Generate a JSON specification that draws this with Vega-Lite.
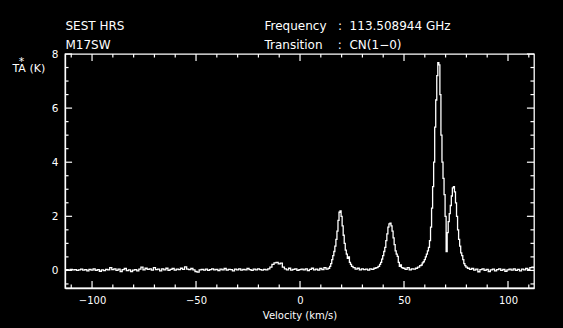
{
  "$schema": "https://vega.github.io/schema/vega-lite/v6.json",
  "width": 469,
  "height": 234,
  "autosize": {"type": "none"},
  "padding": {"left": 65, "top": 54, "right": 29, "bottom": 40},
  "background": "black",
  "config": {
    "view": {"stroke": "white", "strokeWidth": 1.3},
    "axis": {
      "domainColor": "white", "domainWidth": 1.3, "tickColor": "white",
      "labelColor": "white", "titleColor": "white", "labelFont": "DejaVu Sans", "titleFont": "DejaVu Sans",
      "labelFontSize": 10, "titleFontSize": 10, "titleFontWeight": "normal", "grid": false,
      "labelFlush": false, "labelOverlap": false
    }
  },
  "datasets": {
    "xt": [{"v": -110}, {"v": -100}, {"v": -90}, {"v": -80}, {"v": -70}, {"v": -60}, {"v": -50}, {"v": -40}, {"v": -30}, {"v": -20}, {"v": -10}, {"v": 0}, {"v": 10}, {"v": 20}, {"v": 30}, {"v": 40}, {"v": 50}, {"v": 60}, {"v": 70}, {"v": 80}, {"v": 90}, {"v": 100}, {"v": 110}],
    "yt": [{"t": -0.5}, {"t": 0}, {"t": 0.5}, {"t": 1}, {"t": 1.5}, {"t": 2}, {"t": 2.5}, {"t": 3}, {"t": 3.5}, {"t": 4}, {"t": 4.5}, {"t": 5}, {"t": 5.5}, {"t": 6}, {"t": 6.5}, {"t": 7}, {"t": 7.5}, {"t": 8}]
  },
  "data": {"values": [
    {"v": -113, "t": 0.02}, {"v": -112, "t": 0.03}, {"v": -111, "t": 0.01}, {"v": -110, "t": 0.04}, {"v": -109, "t": 0.02},
    {"v": -108, "t": 0.03}, {"v": -107, "t": 0.0}, {"v": -106, "t": 0.02}, {"v": -105, "t": 0.05}, {"v": -104, "t": 0.01},
    {"v": -103, "t": 0.03}, {"v": -102, "t": -0.02}, {"v": -101, "t": 0.04}, {"v": -100, "t": 0.01}, {"v": -99, "t": 0.06},
    {"v": -98, "t": 0.0}, {"v": -97, "t": 0.03}, {"v": -96, "t": -0.03}, {"v": -95, "t": 0.02}, {"v": -94, "t": -0.01},
    {"v": -93, "t": 0.04}, {"v": -92, "t": 0.02}, {"v": -91, "t": 0.1}, {"v": -90, "t": 0.03}, {"v": -89, "t": 0.06},
    {"v": -88, "t": 0.0}, {"v": -87, "t": 0.05}, {"v": -86, "t": -0.04}, {"v": -85, "t": 0.03}, {"v": -84, "t": 0.07},
    {"v": -83, "t": -0.01}, {"v": -82, "t": 0.02}, {"v": -81, "t": -0.04}, {"v": -80, "t": 0.01}, {"v": -79, "t": 0.03},
    {"v": -78, "t": -0.02}, {"v": -77, "t": 0.05}, {"v": -76, "t": 0.12}, {"v": -75, "t": 0.02}, {"v": -74, "t": 0.08},
    {"v": -73, "t": 0.04}, {"v": -72, "t": 0.06}, {"v": -71, "t": 0.01}, {"v": -70, "t": 0.1}, {"v": -69, "t": 0.03},
    {"v": -68, "t": 0.05}, {"v": -67, "t": -0.02}, {"v": -66, "t": 0.06}, {"v": -65, "t": 0.02}, {"v": -64, "t": 0.08},
    {"v": -63, "t": 0.0}, {"v": -62, "t": 0.04}, {"v": -61, "t": 0.07}, {"v": -60, "t": 0.01}, {"v": -59, "t": 0.05},
    {"v": -58, "t": 0.03}, {"v": -57, "t": 0.08}, {"v": -56, "t": 0.04}, {"v": -55, "t": 0.13}, {"v": -54, "t": 0.05},
    {"v": -53, "t": 0.03}, {"v": -52, "t": 0.07}, {"v": -51, "t": 0.02}, {"v": -50, "t": -0.04}, {"v": -49, "t": -0.06},
    {"v": -48, "t": 0.02}, {"v": -47, "t": 0.04}, {"v": -46, "t": 0.01}, {"v": -45, "t": 0.05}, {"v": -44, "t": 0.0},
    {"v": -43, "t": 0.03}, {"v": -42, "t": 0.06}, {"v": -41, "t": 0.02}, {"v": -40, "t": 0.04}, {"v": -39, "t": -0.01},
    {"v": -38, "t": 0.05}, {"v": -37, "t": 0.02}, {"v": -36, "t": 0.07}, {"v": -35, "t": 0.01}, {"v": -34, "t": 0.04},
    {"v": -33, "t": 0.03}, {"v": -32, "t": -0.02}, {"v": -31, "t": 0.05}, {"v": -30, "t": 0.02}, {"v": -29, "t": 0.06},
    {"v": -28, "t": 0.01}, {"v": -27, "t": 0.04}, {"v": -26, "t": 0.02}, {"v": -25, "t": 0.07}, {"v": -24, "t": 0.03},
    {"v": -23, "t": 0.0}, {"v": -22, "t": 0.05}, {"v": -21, "t": 0.02}, {"v": -20, "t": 0.06}, {"v": -19, "t": 0.03},
    {"v": -18, "t": 0.01}, {"v": -17, "t": 0.04}, {"v": -16, "t": 0.02}, {"v": -15, "t": 0.06}, {"v": -14, "t": 0.12},
    {"v": -13, "t": 0.22}, {"v": -12, "t": 0.28}, {"v": -11, "t": 0.3}, {"v": -10, "t": 0.24}, {"v": -9, "t": 0.27},
    {"v": -8, "t": 0.12}, {"v": -7, "t": 0.06}, {"v": -6, "t": 0.02}, {"v": -5, "t": 0.08}, {"v": -4, "t": 0.01},
    {"v": -3, "t": 0.04}, {"v": -2, "t": 0.06}, {"v": -1, "t": 0.0}, {"v": 0, "t": 0.03}, {"v": 1, "t": 0.05},
    {"v": 2, "t": 0.02}, {"v": 3, "t": 0.06}, {"v": 4, "t": -0.01}, {"v": 5, "t": 0.04}, {"v": 6, "t": 0.08},
    {"v": 7, "t": 0.02}, {"v": 8, "t": 0.05}, {"v": 9, "t": 0.01}, {"v": 10, "t": 0.07}, {"v": 11, "t": 0.03},
    {"v": 12, "t": 0.1}, {"v": 13, "t": 0.05}, {"v": 14, "t": 0.08}, {"v": 14.5, "t": 0.15}, {"v": 15, "t": 0.25},
    {"v": 15.5, "t": 0.4}, {"v": 16, "t": 0.55}, {"v": 16.5, "t": 0.7}, {"v": 17, "t": 0.9}, {"v": 17.5, "t": 1.15},
    {"v": 18, "t": 1.45}, {"v": 18.5, "t": 1.85}, {"v": 19, "t": 2.15}, {"v": 19.5, "t": 2.2}, {"v": 20, "t": 2.0},
    {"v": 20.5, "t": 1.65}, {"v": 21, "t": 1.3}, {"v": 21.5, "t": 1.0}, {"v": 22, "t": 0.75}, {"v": 22.5, "t": 0.6},
    {"v": 23, "t": 0.45}, {"v": 23.5, "t": 0.5}, {"v": 24, "t": 0.3}, {"v": 24.5, "t": 0.22}, {"v": 25, "t": 0.15},
    {"v": 26, "t": 0.1}, {"v": 27, "t": 0.05}, {"v": 28, "t": 0.08}, {"v": 29, "t": 0.02}, {"v": 30, "t": 0.06},
    {"v": 31, "t": 0.03}, {"v": 32, "t": 0.05}, {"v": 33, "t": 0.01}, {"v": 34, "t": 0.06}, {"v": 35, "t": 0.04},
    {"v": 36, "t": 0.08}, {"v": 37, "t": 0.1}, {"v": 38, "t": 0.15}, {"v": 38.5, "t": 0.22}, {"v": 39, "t": 0.3},
    {"v": 39.5, "t": 0.42}, {"v": 40, "t": 0.55}, {"v": 40.5, "t": 0.7}, {"v": 41, "t": 0.85}, {"v": 41.5, "t": 1.1},
    {"v": 42, "t": 1.35}, {"v": 42.5, "t": 1.6}, {"v": 43, "t": 1.72}, {"v": 43.5, "t": 1.75}, {"v": 44, "t": 1.65},
    {"v": 44.5, "t": 1.45}, {"v": 45, "t": 1.2}, {"v": 45.5, "t": 0.95}, {"v": 46, "t": 0.72}, {"v": 46.5, "t": 0.6},
    {"v": 47, "t": 0.52}, {"v": 47.5, "t": 0.3}, {"v": 48, "t": 0.15}, {"v": 48.5, "t": 0.2}, {"v": 49, "t": 0.1},
    {"v": 50, "t": 0.08}, {"v": 51, "t": 0.04}, {"v": 52, "t": 0.1}, {"v": 53, "t": 0.02}, {"v": 54, "t": 0.06},
    {"v": 55, "t": 0.05}, {"v": 56, "t": 0.08}, {"v": 57, "t": 0.12}, {"v": 58, "t": 0.18}, {"v": 58.5, "t": 0.2},
    {"v": 59, "t": 0.28}, {"v": 59.5, "t": 0.32}, {"v": 60, "t": 0.4}, {"v": 60.5, "t": 0.5}, {"v": 61, "t": 0.6},
    {"v": 61.5, "t": 0.72}, {"v": 62, "t": 0.85}, {"v": 62.5, "t": 1.1}, {"v": 63, "t": 1.6}, {"v": 63.5, "t": 2.3},
    {"v": 64, "t": 3.1}, {"v": 64.5, "t": 4.0}, {"v": 65, "t": 5.3}, {"v": 65.5, "t": 6.3}, {"v": 66, "t": 7.2},
    {"v": 66.5, "t": 7.68}, {"v": 67, "t": 7.6}, {"v": 67.5, "t": 6.5}, {"v": 68, "t": 5.0}, {"v": 68.5, "t": 4.0},
    {"v": 69, "t": 3.4}, {"v": 69.5, "t": 2.8}, {"v": 70, "t": 2.0}, {"v": 70.5, "t": 0.7}, {"v": 71, "t": 1.4},
    {"v": 71.5, "t": 1.8}, {"v": 72, "t": 2.1}, {"v": 72.5, "t": 2.4}, {"v": 73, "t": 2.75}, {"v": 73.5, "t": 3.05},
    {"v": 74, "t": 3.1}, {"v": 74.5, "t": 2.9}, {"v": 75, "t": 2.5}, {"v": 75.5, "t": 2.0}, {"v": 76, "t": 1.5},
    {"v": 76.5, "t": 1.15}, {"v": 77, "t": 0.9}, {"v": 77.5, "t": 0.65}, {"v": 78, "t": 0.55}, {"v": 78.5, "t": 0.4},
    {"v": 79, "t": 0.25}, {"v": 79.5, "t": 0.18}, {"v": 80, "t": 0.12}, {"v": 81, "t": 0.08}, {"v": 82, "t": 0.04},
    {"v": 83, "t": 0.07}, {"v": 84, "t": 0.01}, {"v": 85, "t": 0.05}, {"v": 86, "t": -0.05}, {"v": 87, "t": 0.03},
    {"v": 88, "t": 0.06}, {"v": 89, "t": 0.0}, {"v": 90, "t": 0.04}, {"v": 91, "t": -0.04}, {"v": 92, "t": 0.02},
    {"v": 93, "t": 0.05}, {"v": 94, "t": -0.02}, {"v": 95, "t": 0.03}, {"v": 96, "t": 0.06}, {"v": 97, "t": 0.0},
    {"v": 98, "t": 0.04}, {"v": 99, "t": -0.03}, {"v": 100, "t": 0.02}, {"v": 101, "t": 0.05}, {"v": 102, "t": 0.01},
    {"v": 103, "t": 0.06}, {"v": 104, "t": 0.0}, {"v": 105, "t": 0.04}, {"v": 106, "t": -0.02}, {"v": 107, "t": 0.05},
    {"v": 108, "t": 0.02}, {"v": 109, "t": 0.07}, {"v": 110, "t": 0.03}, {"v": 111, "t": 0.1}, {"v": 112, "t": 0.12},
    {"v": 112.5, "t": 0.1}
  ]},
  "layer": [
    {
      "mark": {"type": "line", "interpolate": "step", "color": "white", "strokeWidth": 1.3, "clip": true},
      "encoding": {
        "x": {"field": "v", "type": "quantitative",
          "scale": {"domain": [-113, 112.5], "nice": false, "zero": false},
          "axis": {"orient": "bottom", "values": [-100, -50, 0, 50, 100], "ticks": false,
            "labelPadding": 7, "format": "d",
            "title": "Velocity (km/s)", "titleY": 30.5, "titleBaseline": "alphabetic", "titleFontSize": 10}},
        "y": {"field": "t", "type": "quantitative",
          "scale": {"domain": [-0.65, 8], "nice": false, "zero": false},
          "axis": {"orient": "left", "values": [0, 2, 4, 6, 8], "ticks": false, "format": "d",
            "labelPadding": 7, "labelFontSize": 10.5,
            "title": "TA (K)", "titleAngle": 0, "titleX": -53, "titleY": 17,
            "titleAlign": "left", "titleBaseline": "alphabetic", "titleFontSize": 11}}
      }
    },
    {
      "mark": {"type": "line", "opacity": 0},
      "encoding": {
        "x": {"field": "v", "type": "quantitative",
          "axis": {"orient": "top", "ticks": false, "labels": false, "domain": false,
            "title": ["SEST HRS", "M17SW"], "titleX": 0, "titleY": -25, "titleAlign": "left", "titleAngle": 0,
            "titleBaseline": "alphabetic", "titleLineHeight": 19, "titleFontSize": 12}},
        "y": {"field": "t", "type": "quantitative",
          "axis": {"orient": "right", "ticks": false, "labels": false, "domain": false,
            "title": ["Frequency\u00a0\u00a0\u00a0:\u00a0\u00a0113.508944 GHz", "Transition\u00a0\u00a0\u00a0\u00a0:\u00a0\u00a0CN(1\u22120)"],
            "titleX": -270, "titleY": -25, "titleAlign": "left", "titleAngle": 0,
            "titleBaseline": "alphabetic", "titleLineHeight": 19, "titleFontSize": 12}}
      }
    },
    {
      "mark": {"type": "line", "opacity": 0},
      "encoding": {
        "x": {"field": "v", "type": "quantitative", "axis": null},
        "y": {"field": "t", "type": "quantitative",
          "axis": {"orient": "left", "ticks": false, "labels": false, "domain": false,
            "title": "*", "titleAngle": 0, "titleX": -44, "titleY": 10, "titleAlign": "center",
            "titleBaseline": "alphabetic", "titleFontSize": 11}}
      }
    },
    {
      "data": {"name": "xt"},
      "transform": [{"filter": "datum.v % 50 === 0"}],
      "mark": {"type": "rule", "color": "white", "strokeWidth": 1.2},
      "encoding": {
        "x": {"field": "v", "type": "quantitative", "axis": null},
        "y": {"datum": -0.65, "type": "quantitative", "axis": null},
        "y2": {"datum": -0.39}
      }
    },
    {
      "data": {"name": "xt"},
      "transform": [{"filter": "datum.v % 50 !== 0"}],
      "mark": {"type": "rule", "color": "white", "strokeWidth": 1.2},
      "encoding": {
        "x": {"field": "v", "type": "quantitative", "axis": null},
        "y": {"datum": -0.65, "type": "quantitative", "axis": null},
        "y2": {"datum": -0.52}
      }
    },
    {
      "data": {"name": "xt"},
      "transform": [{"filter": "datum.v % 50 === 0"}],
      "mark": {"type": "rule", "color": "white", "strokeWidth": 1.2},
      "encoding": {
        "x": {"field": "v", "type": "quantitative", "axis": null},
        "y": {"datum": 8, "type": "quantitative", "axis": null},
        "y2": {"datum": 7.74}
      }
    },
    {
      "data": {"name": "xt"},
      "transform": [{"filter": "datum.v % 50 !== 0"}],
      "mark": {"type": "rule", "color": "white", "strokeWidth": 1.2},
      "encoding": {
        "x": {"field": "v", "type": "quantitative", "axis": null},
        "y": {"datum": 8, "type": "quantitative", "axis": null},
        "y2": {"datum": 7.87}
      }
    },
    {
      "data": {"name": "yt"},
      "transform": [{"filter": "datum.t % 2 === 0"}],
      "mark": {"type": "rule", "color": "white", "strokeWidth": 1.2},
      "encoding": {
        "y": {"field": "t", "type": "quantitative", "axis": null},
        "x": {"datum": -113, "type": "quantitative", "axis": null},
        "x2": {"datum": -109.6}
      }
    },
    {
      "data": {"name": "yt"},
      "transform": [{"filter": "datum.t % 2 !== 0"}],
      "mark": {"type": "rule", "color": "white", "strokeWidth": 1.2},
      "encoding": {
        "y": {"field": "t", "type": "quantitative", "axis": null},
        "x": {"datum": -113, "type": "quantitative", "axis": null},
        "x2": {"datum": -111.3}
      }
    },
    {
      "data": {"name": "yt"},
      "transform": [{"filter": "datum.t % 2 === 0"}],
      "mark": {"type": "rule", "color": "white", "strokeWidth": 1.2},
      "encoding": {
        "y": {"field": "t", "type": "quantitative", "axis": null},
        "x": {"datum": 112.5, "type": "quantitative", "axis": null},
        "x2": {"datum": 109.1}
      }
    },
    {
      "data": {"name": "yt"},
      "transform": [{"filter": "datum.t % 2 !== 0"}],
      "mark": {"type": "rule", "color": "white", "strokeWidth": 1.2},
      "encoding": {
        "y": {"field": "t", "type": "quantitative", "axis": null},
        "x": {"datum": 112.5, "type": "quantitative", "axis": null},
        "x2": {"datum": 110.8}
      }
    }
  ],
  "resolve": {"axis": {"x": "independent", "y": "independent"}}
}
